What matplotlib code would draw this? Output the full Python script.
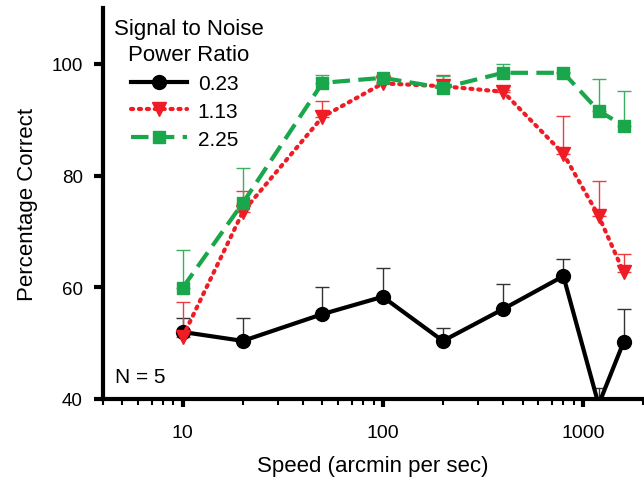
import numpy as np
import matplotlib
matplotlib.use("Agg")
from matplotlib import pyplot as plt
from matplotlib.ticker import LogLocator, NullFormatter, FixedLocator

plt.rcParams['font.family'] = ['Liberation Sans', 'DejaVu Sans']

speeds = [10, 20, 50, 100, 200, 400, 800, 1200, 1600]

snr_labels = ["0.23", "1.13", "2.25"]
pc_023 = [52.0, 50.4, 55.2, 58.3, 50.4, 56.1, 62.0, 39.0, 50.2]
err_023 = [2.5, 4.1, 4.8, 5.2, 2.4, 4.4, 3.1, 3.0, 6.0]
pc_113 = [51.1, 73.5, 90.5, 96.5, 96.0, 95.0, 83.9, 72.8, 62.7]
err_113 = [6.3, 3.8, 2.9, 0.3, 2.0, 0.3, 6.8, 6.2, 3.3]
pc_225 = [59.9, 75.1, 96.6, 97.5, 95.7, 98.4, 98.4, 91.6, 88.9]
err_225 = [6.8, 6.2, 1.4, 0.5, 2.2, 1.6, 0.2, 5.6, 6.3]

fig = plt.figure(figsize=(6.44, 4.85), dpi=100)
ax = fig.add_axes([103/644, 85/485, 540/644, 391/485])

styles = [
    dict(color="black", ecolor="#333333", ls="-", marker="o", ms=10, dashes=None),
    dict(color="#ee1c25", ecolor="#ee3a40", ls=":", marker="v", ms=10, dashes=(0.5, 1.4)),
    dict(color="#1aa64a", ecolor="#3cb062", ls="--", marker="s", ms=9, dashes=(4.2, 2.0)),
]
series = [(pc_023, err_023), (pc_113, err_113), (pc_225, err_225)]

handles = []
for (vals, errs), st, lab in zip(series, styles, snr_labels):
    ax.errorbar(speeds, vals, yerr=[np.zeros(len(errs)), errs], fmt="none",
                ecolor=st["ecolor"], elinewidth=1.0, capsize=5, capthick=1.0, zorder=2)
    line, = ax.plot(speeds, vals, color=st["color"], lw=3, marker=st["marker"],
                    ms=st["ms"], label=lab, zorder=3)
    if st["dashes"] is not None:
        line.set_dashes(st["dashes"])
        if st["ls"] == ":":
            line.set_dash_capstyle("round")
    handles.append(line)

ax.set_xscale("log")
ax.set_xlim(4, 2000)
ax.set_ylim(40, 110)
ax.set_yticks([40, 60, 80, 100])
ax.xaxis.set_major_locator(FixedLocator([10, 100, 1000]))
ax.set_xticklabels(["10", "100", "1000"])
ax.xaxis.set_minor_locator(LogLocator(base=10, subs=np.arange(2, 10)))
ax.xaxis.set_minor_formatter(NullFormatter())

for s in ["top", "right"]:
    ax.spines[s].set_visible(False)
for s in ["left", "bottom"]:
    ax.spines[s].set_linewidth(3)

ax.tick_params(axis="y", which="major", direction="out", length=6.5, width=3,
               labelsize=13.5, pad=8)
ax.tick_params(axis="x", which="major", direction="out", length=6, width=3,
               labelsize=14, pad=12)
ax.tick_params(axis="x", which="minor", direction="out", length=4, width=1.5)

ax.set_xlabel("Speed (arcmin per sec)", fontsize=16, labelpad=10)
ax.set_ylabel("Percentage Correct", fontsize=16, labelpad=10)

ax.text(4.6, 43.0, "N = 5", fontsize=15)

# legend title drawn separately so the entries can sit left of its centre
fig.text(189/644, 1 - 42.5/485, "Signal to Noise\nPower Ratio", fontsize=16,
         ha="center", va="center", multialignment="center", linespacing=1.3)
ax.legend(handles=handles, loc="upper left",
          bbox_to_anchor=(131/644, 1 - 75/485), bbox_transform=fig.transFigure,
          frameon=False, fontsize=15, handlelength=2.7, handletextpad=0.5,
          labelspacing=0.42, borderaxespad=0.0, borderpad=0.0)

fig.savefig("out.png", dpi=100)
